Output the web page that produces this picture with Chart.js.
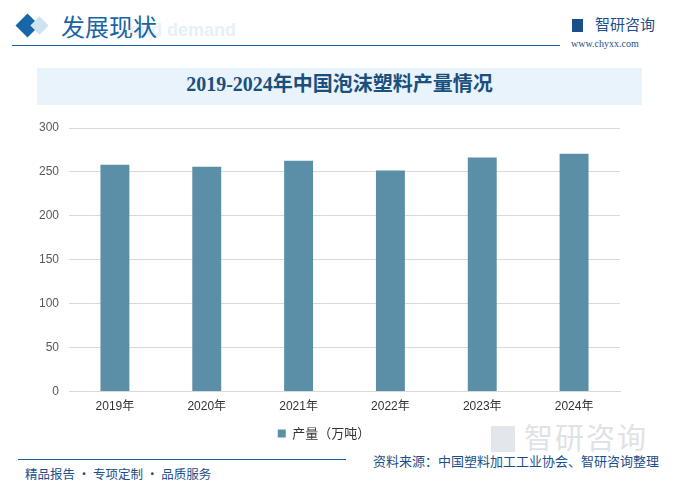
<!DOCTYPE html>
<html>
<head>
<meta charset="utf-8">
<script src="https://cdn.jsdelivr.net/npm/chart.js@4/dist/chart.umd.min.js"></script>
<style>
  html,body{margin:0;padding:0;background:#fff;}
  body{width:680px;height:491px;position:relative;overflow:hidden;font-family:"Liberation Sans","Noto Sans CJK SC",sans-serif;}
  .abs{position:absolute;}
  #wrap{position:absolute;left:0;top:0;width:680px;height:491px;}
</style>
</head>
<body>
<!-- header -->
<div class="abs" style="left:19px;top:17px;width:17px;height:17px;background:#1666a8;transform:rotate(45deg);"></div>
<div class="abs" style="left:33px;top:19px;width:13px;height:13px;background:#cfe2f1;transform:rotate(45deg);"></div>
<div class="abs" style="left:130px;top:20px;font:bold 18px 'Liberation Sans',sans-serif;color:#e6f0fa;">and demand</div>
<div class="abs" style="left:61px;top:11px;font:24px 'Noto Sans CJK SC',sans-serif;color:#1a64a6;line-height:30px;">发展现状</div>
<div class="abs" style="left:12px;top:45px;width:548px;height:1px;background:#1a64a6;"></div>
<div class="abs" style="left:572px;top:19px;width:11px;height:13px;background:#1b4f8a;"></div>
<div class="abs" style="left:595px;top:14px;font:15px 'Noto Sans CJK SC',sans-serif;color:#1b4f8a;line-height:20px;">智研咨询</div>
<div class="abs" style="left:571px;top:38px;font:10px 'Liberation Serif',serif;color:#1b4f8a;">www.chyxx.com</div>
<!-- title band -->
<div class="abs" style="left:37px;top:68px;width:605px;height:37px;background:#e8f3fb;"></div>
<div class="abs" style="left:37px;top:68px;width:605px;height:37px;line-height:37px;text-align:center;font:bold 20px 'Liberation Serif','Noto Sans CJK SC',serif;color:#1a4f7e;">2019-2024年中国泡沫塑料产量情况</div>
<!-- watermark logo bottom right -->
<div class="abs" style="left:491px;top:426px;width:24px;height:26px;background:#e3e6ea;"></div>
<div class="abs" style="left:524px;top:418px;font:29px 'Noto Sans CJK SC',sans-serif;color:#dfe2e6;line-height:36px;letter-spacing:2px;">智研咨询</div>
<!-- footer -->
<div class="abs" style="left:18px;top:459px;width:328px;height:1px;background:#1a64a6;"></div>
<div class="abs" style="left:25px;top:465px;font:12.5px 'Noto Sans CJK SC',sans-serif;color:#1b4f8a;line-height:18px;">精品报告 · 专项定制 · 品质服务</div>
<div class="abs" style="left:373px;top:452px;font:13px 'Noto Sans CJK SC',sans-serif;color:#1b4f8a;line-height:18px;">资料来源：中国塑料加工工业协会、智研咨询整理</div>

<div id="wrap"><canvas id="c"></canvas></div>
<script>
const categories = ["2019年","2020年","2021年","2022年","2023年","2024年"];
const seriesName = "产量（万吨）";
const production = [258.3, 255.9, 262.8, 251.5, 266.3, 270.8];
const yTicks = [0, 50, 100, 150, 200, 250, 300];

const ctx = document.getElementById('c');
new Chart(ctx, {
  type: 'bar',
  data: {
    labels: categories,
    datasets: [{
      label: seriesName,
      data: production,
      backgroundColor: '#5b8fa8',
      categoryPercentage: 1.0,
      barPercentage: 0.315
    }]
  },
  options: {
    responsive: true,
    maintainAspectRatio: false,
    animation: false,
    devicePixelRatio: 1,
    layout: { padding: { left: 28, right: 60, top: 128, bottom: 41 } },
    plugins: {
      legend: {
        position: 'bottom',
        labels: {
          usePointStyle: true,
          pointStyle: 'rect',
          boxWidth: 8, boxHeight: 8,
          color: '#333333',
          font: { size: 13, family: "'Noto Sans CJK SC', sans-serif" },
          padding: 13
        }
      },
      tooltip: { enabled: false }
    },
    scales: {
      x: {
        grid: { display: false },
        border: { color: '#d9d9d9' },
        ticks: { color: '#333333', font: { size: 12, family: "'Liberation Sans','Noto Sans CJK SC',sans-serif" }, padding: 0 }
      },
      y: {
        min: 0, max: 300,
        afterBuildTicks: (s) => { s.ticks = yTicks.map(v => ({ value: v })); },
        afterFit: (s) => { s.width = 41; },
        grid: { color: '#d9d9d9', drawTicks: false },
        border: { display: false },
        ticks: { color: '#595959', font: { size: 12, family: "'Liberation Sans',sans-serif" }, padding: 10 }
      }
    }
  }
});
</script>
</body>
</html>
